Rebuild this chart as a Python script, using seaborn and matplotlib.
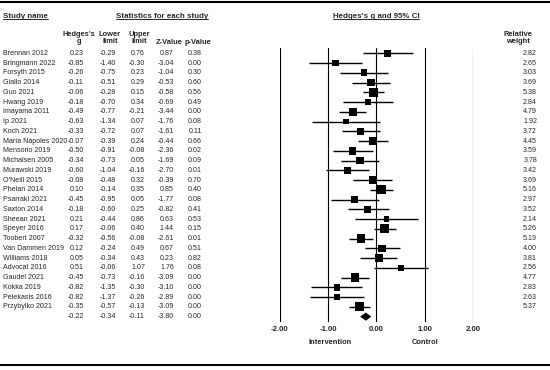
import matplotlib
matplotlib.use("Agg")
import matplotlib.pyplot as plt
import matplotlib.transforms as mtrans
from matplotlib.lines import Line2D
import seaborn as sns
import pandas as pd
import numpy as np

# ---------------- data ----------------
studies = ["Brennan 2012", "Bringmann 2022", "Forsyth 2015", "Giallo 2014", "Guo 2021",
           "Hwang 2019", "Imayama 2011", "Ip 2021", "Koch 2021", "María Nápoles 2020",
           "Mensorio 2019", "Michalsen 2005", "Murawski 2019", "O'Neill 2015", "Phelan 2014",
           "Psarraki 2021", "Saxton 2014", "Sheean 2021", "Speyer 2016", "Toobert 2007",
           "Van Dammen 2019", "Williams 2018", "Advocat 2016", "Gaudel 2021", "Kokka 2019",
           "Pelekasis 2016", "Przybylko 2021"]
hedges_g = [0.23, -0.85, -0.26, -0.11, -0.06, -0.18, -0.49, -0.63, -0.33, -0.07, -0.50, -0.34,
            -0.60, -0.08, 0.10, -0.45, -0.18, 0.21, 0.17, -0.32, 0.12, 0.05, 0.51, -0.45,
            -0.82, -0.82, -0.35]
lower_limit = [-0.29, -1.40, -0.75, -0.51, -0.28, -0.70, -0.77, -1.34, -0.72, -0.39, -0.91, -0.73,
               -1.04, -0.48, -0.14, -0.95, -0.60, -0.44, -0.06, -0.56, -0.24, -0.34, -0.06, -0.73,
               -1.35, -1.37, -0.57]
upper_limit = [0.76, -0.30, 0.23, 0.29, 0.15, 0.34, -0.21, 0.07, 0.07, 0.24, -0.08, 0.05,
               -0.16, 0.32, 0.35, 0.05, 0.25, 0.86, 0.40, -0.08, 0.49, 0.43, 1.07, -0.16,
               -0.30, -0.26, -0.13]
z_value = [0.87, -3.04, -1.04, -0.53, -0.58, -0.69, -3.44, -1.76, -1.61, -0.44, -2.36, -1.69,
           -2.70, -0.39, 0.85, -1.77, -0.82, 0.63, 1.44, -2.61, 0.67, 0.23, 1.76, -3.09,
           -3.10, -2.89, -3.09]
p_value = [0.38, 0.00, 0.30, 0.60, 0.56, 0.49, 0.00, 0.08, 0.11, 0.66, 0.02, 0.09,
           0.01, 0.70, 0.40, 0.08, 0.41, 0.53, 0.15, 0.01, 0.51, 0.82, 0.08, 0.00,
           0.00, 0.00, 0.00]
rel_weight = [2.82, 2.65, 3.03, 3.69, 5.38, 2.84, 4.79, 1.92, 3.72, 4.45, 3.59, 3.78,
              3.42, 3.69, 5.16, 2.97, 3.52, 2.14, 5.26, 5.19, 4.00, 3.81, 2.56, 4.77,
              2.83, 2.63, 5.37]
pooled = {"g": -0.22, "lower": -0.34, "upper": -0.11, "z": -3.80, "p": 0.00}
x_ticks = [-2, -1, 0, 1, 2]
x_tick_labels = ["-2.00", "-1.00", "0.00", "1.00", "2.00"]
left_label, right_label = "Intervention", "Control"

# ---------------- figure ----------------
sns.set_theme(style="white")
plt.rcParams['font.family'] = ['Liberation Sans', 'DejaVu Sans']

W, H = 550, 370
fig = plt.figure(figsize=(W / 100, H / 100), dpi=100)
fig.patch.set_facecolor("white")

n_rows = len(studies) + 1
x0_px, x1_px = 280, 473
y_top_px, y_bot_px = 48, 322
ax = fig.add_axes([x0_px / W, 1 - y_bot_px / H, (x1_px - x0_px) / W, (y_bot_px - y_top_px) / H])
ax.set_xlim(x_ticks[0], x_ticks[-1])
ax.set_ylim(n_rows - 0.45, -0.55)
ax.patch.set_alpha(0)
for s in ax.spines.values():
    s.set_visible(False)

df = pd.DataFrame({"study": studies, "g": hedges_g, "lo": lower_limit, "hi": upper_limit,
                   "z": z_value, "p": p_value, "w": rel_weight})
df["row"] = np.arange(len(df))

for xv in x_ticks:
    ax.axvline(xv, color="black", lw=0.8, zorder=1)

ax.hlines(df["row"], df["lo"], df["hi"], color="black", lw=1.0, zorder=2, clip_on=False)
wmin, wmax = min(rel_weight), max(rel_weight)
k = 7.8
sns.scatterplot(data=df, x="g", y="row", size="w", sizes=(k * wmin, k * wmax),
                size_norm=(wmin, wmax), marker="s", color="black", linewidth=0,
                legend=False, ax=ax, zorder=3, clip_on=False)

# pooled diamond
pr = n_rows - 1
hd = 0.42
ax.fill([pooled["lower"], pooled["g"], pooled["upper"], pooled["g"]],
        [pr, pr - hd, pr, pr + hd], color="black", zorder=3, clip_on=False, lw=0)

ax.set_xticks(x_ticks)
ax.set_xticklabels(x_tick_labels, fontsize=5.6, fontweight="bold")
ax.tick_params(axis="x", length=0, pad=3)
ax.set_yticks([])
ax.set_xlabel("")
ax.set_ylabel("")

# transforms
px_x = mtrans.Affine2D().scale(1.0 / W, 1.0 / H) + fig.transFigure
row_tr = mtrans.blended_transform_factory(px_x, ax.transData)
px_top = mtrans.Affine2D().scale(1.0 / W, -1.0 / H).translate(0, 1) + fig.transFigure
data_x_px_y = mtrans.blended_transform_factory(ax.transData, px_top)

fs = 5.1
cols_x = [84, 116, 145, 174, 202]
for _, r in df.iterrows():
    ax.text(3, r["row"], r["study"], transform=row_tr, ha="left", va="center", fontsize=fs)
    for cx, v in zip(cols_x, [r["g"], r["lo"], r["hi"], r["z"], r["p"]]):
        ax.text(cx, r["row"], f"{v:.2f}", transform=row_tr, ha="right", va="center", fontsize=fs)
    ax.text(537, r["row"], f"{r['w']:.2f}", transform=row_tr, ha="right", va="center", fontsize=fs)
for cx, v in zip(cols_x, [pooled["g"], pooled["lower"], pooled["upper"], pooled["z"], pooled["p"]]):
    ax.text(cx, pr, f"{v:.2f}", transform=row_tr, ha="right", va="center", fontsize=fs)

hfs = 5.7
sfs = 5.4
headers = [
    fig.text(3, 16, "Study name", transform=px_top, ha="left", va="center", fontsize=hfs, fontweight="bold"),
    fig.text(162, 16, "Statistics for each study", transform=px_top, ha="center", va="center", fontsize=hfs, fontweight="bold"),
    fig.text(376, 16, "Hedges's g and 95% CI", transform=px_top, ha="center", va="center", fontsize=hfs, fontweight="bold"),
]
subs = [(79, "Hedges's\ng"), (110, "Lower\nlimit"), (139, "Upper\nlimit"), (169, "Z-Value"), (198, "p-Value"), (518, "Relative\nweight")]
for sx, st in subs:
    yy = 42 if "\n" not in st else 38
    fig.text(sx, yy, st, transform=px_top, ha="center", va="center", fontsize=sfs,
             fontweight="bold", linespacing=1.05)

ax.text(x_ticks[1] + 0.03, 343, left_label, transform=data_x_px_y, ha="center", va="center", fontsize=sfs, fontweight="bold")
ax.text(x_ticks[3], 343, right_label, transform=data_x_px_y, ha="center", va="center", fontsize=sfs, fontweight="bold")

# top / bottom rules
fig.add_artist(Line2D([0, 1], [1 - 2.0 / H] * 2, transform=fig.transFigure, color="black", lw=1.5))
fig.add_artist(Line2D([0, 1], [1 - 365.0 / H] * 2, transform=fig.transFigure, color="black", lw=1.5))

# underline headers
fig.canvas.draw()
for t in headers:
    bb = t.get_window_extent()
    fig.add_artist(Line2D([bb.x0, bb.x1], [bb.y0 + 0.3] * 2, transform=mtrans.IdentityTransform(),
                          color="black", lw=0.6))

fig.savefig("out.png", dpi=100, facecolor="white")
